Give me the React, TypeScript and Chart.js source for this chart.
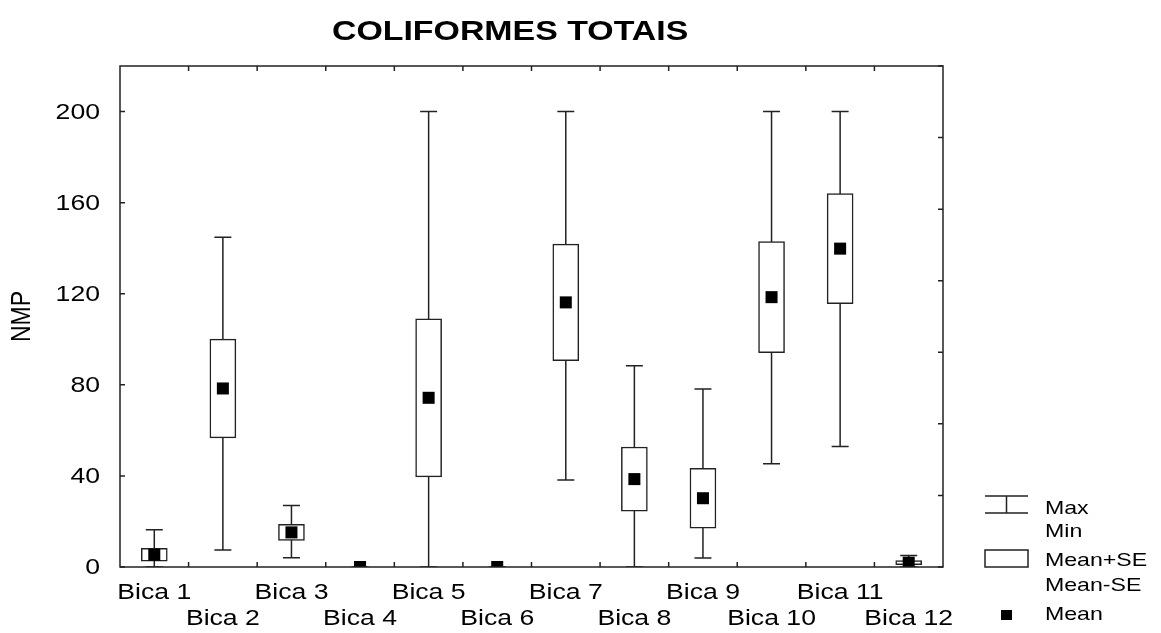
import React, { useEffect, useRef } from 'react';
import { Chart, registerables } from 'chart.js';

Chart.register(...registerables);

const categories = ['Bica 1', 'Bica 2', 'Bica 3', 'Bica 4', 'Bica 5', 'Bica 6', 'Bica 7', 'Bica 8', 'Bica 9', 'Bica 10', 'Bica 11', 'Bica 12'];
const meanValues = [5.4, 78.4, 15.2, 0, 74.3, 0, 116.2, 38.6, 30.2, 118.5, 139.8, 1.9];
const seValues = [2.8, 21.7, 3.5, 0, 34.7, 0, 25.6, 14.1, 13.1, 24.4, 24.2, 0.9];
const maxValues = [16.4, 144.8, 27, 0, 200, 0, 200, 88.4, 78.2, 200, 200, 5];
const minValues = [0, 7.5, 4.1, 0, 0, 0, 38.2, 0, 4, 45.3, 52.9, 0];
const yMin = 0;
const yMax = 220;
const yStep = 40;
const titleText = 'COLIFORMES TOTAIS';
const yAxisTitle = 'NMP';
const legendWhiskerLabels = ['Max', 'Min'];
const legendBoxLabels = ['Mean+SE', 'Mean-SE'];
const legendMeanLabel = 'Mean';

const FONT = '"Liberation Sans", Arial, Helvetica, sans-serif';
const LINE = '#222';
const STRETCH = 1.21; // the reference text is horizontally widened

function stretchedText(
  ctx: CanvasRenderingContext2D,
  text: string,
  x: number,
  y: number,
  align: CanvasTextAlign,
  baseline: CanvasTextBaseline,
  sx: number,
  rotate = 0,
) {
  ctx.save();
  ctx.translate(x, y);
  ctx.scale(sx, 1);
  if (rotate) ctx.rotate(rotate);
  ctx.textAlign = align;
  ctx.textBaseline = baseline;
  ctx.fillText(text, 0, 0);
  ctx.restore();
}

const boxPlotPlugin = {
  id: 'boxPlotExtras',
  beforeDatasetsDraw(chart: any) {
    const { ctx, chartArea } = chart;
    const xs = chart.scales.x;
    const ys = chart.scales.y;
    ctx.save();
    ctx.beginPath();
    ctx.rect(chartArea.left, chartArea.top, chartArea.right - chartArea.left, chartArea.bottom - chartArea.top);
    ctx.clip();
    ctx.strokeStyle = LINE;
    ctx.lineWidth = 1.5;
    const capHalf = 8.5;
    categories.forEach((_, i) => {
      const x = xs.getPixelForValue(i);
      const yTop = ys.getPixelForValue(maxValues[i]);
      const yBot = ys.getPixelForValue(minValues[i]);
      ctx.beginPath();
      ctx.moveTo(x, yBot);
      ctx.lineTo(x, yTop);
      ctx.moveTo(x - capHalf, yTop);
      ctx.lineTo(x + capHalf, yTop);
      ctx.moveTo(x - capHalf, yBot);
      ctx.lineTo(x + capHalf, yBot);
      ctx.stroke();
    });
    ctx.restore();
  },
  afterDraw(chart: any) {
    const { ctx, chartArea } = chart;
    const xs = chart.scales.x;
    const ys = chart.scales.y;
    const y2 = chart.scales.y2;
    const { left, right, top, bottom } = chartArea;
    const tl = 5;
    ctx.save();
    ctx.strokeStyle = LINE;
    ctx.lineWidth = 1.5;
    ctx.strokeRect(left, top, right - left, bottom - top);
    ctx.beginPath();
    for (let i = 1; i < categories.length; i++) {
      const px = (xs.getPixelForValue(i - 1) + xs.getPixelForValue(i)) / 2;
      ctx.moveTo(px, bottom);
      ctx.lineTo(px, bottom - tl);
      ctx.moveTo(px, top);
      ctx.lineTo(px, top + tl);
    }
    ys.ticks.forEach((t: any) => {
      const py = ys.getPixelForValue(t.value);
      ctx.moveTo(left, py);
      ctx.lineTo(left + tl, py);
    });
    y2.ticks.forEach((t: any) => {
      const py = y2.getPixelForValue(t.value);
      ctx.moveTo(right, py);
      ctx.lineTo(right - tl, py);
    });
    ctx.stroke();

    ctx.fillStyle = '#000';

    // y tick labels
    ctx.font = `22px ${FONT}`;
    ys.ticks.forEach((t: any) => {
      stretchedText(ctx, String(t.value), left - 20, ys.getPixelForValue(t.value) + 1, 'right', 'middle', STRETCH);
    });
    // x tick labels, alternating rows
    categories.forEach((c, i) => {
      const px = xs.getPixelForValue(i);
      stretchedText(ctx, c, px, bottom + (i % 2 === 0 ? 32 : 58), 'center', 'alphabetic', STRETCH);
    });
    // y axis title
    ctx.font = `23px ${FONT}`;
    stretchedText(ctx, yAxisTitle, left - 98, (top + bottom) / 2, 'center', 'middle', STRETCH, -Math.PI / 2);

    // title
    ctx.font = `bold 28px ${FONT}`;
    stretchedText(ctx, titleText, left + (right - left) * 0.474, 40, 'center', 'alphabetic', STRETCH);

    // legend
    const lx0 = right + 42;
    const lx1 = right + 85;
    const lxc = (lx0 + lx1) / 2;
    const tx = right + 102;
    ctx.lineWidth = 1.5;
    ctx.strokeStyle = LINE;
    ctx.beginPath();
    ctx.moveTo(lx0, bottom - 71);
    ctx.lineTo(lx1, bottom - 71);
    ctx.moveTo(lx0, bottom - 54);
    ctx.lineTo(lx1, bottom - 54);
    ctx.moveTo(lxc, bottom - 71);
    ctx.lineTo(lxc, bottom - 54);
    ctx.stroke();
    ctx.strokeRect(lx0, bottom - 17, lx1 - lx0, 17);
    ctx.fillRect(lxc - 5.5, bottom + 43, 11, 10);

    ctx.font = `18.5px ${FONT}`;
    const ls = 1.25;
    stretchedText(ctx, legendWhiskerLabels[0], tx, bottom - 53, 'left', 'alphabetic', ls);
    stretchedText(ctx, legendWhiskerLabels[1], tx, bottom - 30, 'left', 'alphabetic', ls);
    stretchedText(ctx, legendBoxLabels[0], tx, bottom - 1, 'left', 'alphabetic', ls);
    stretchedText(ctx, legendBoxLabels[1], tx, bottom + 24, 'left', 'alphabetic', ls);
    stretchedText(ctx, legendMeanLabel, tx, bottom + 53, 'left', 'alphabetic', ls);
    ctx.restore();
  },
};

export default function App() {
  const canvasRef = useRef<HTMLCanvasElement | null>(null);

  useEffect(() => {
    document.body.style.margin = '0';
    const canvas = canvasRef.current;
    if (!canvas) return;
    const chart = new Chart(canvas, {
      type: 'bar',
      data: {
        labels: categories,
        datasets: [
          {
            type: 'line',
            label: 'Mean',
            data: meanValues,
            showLine: false,
            pointStyle: 'rect',
            pointRadius: 8.5,
            pointHoverRadius: 8.5,
            pointBackgroundColor: '#000',
            pointBorderWidth: 0,
            borderWidth: 0,
            clip: 0,
            order: 0,
          } as any,
          {
            type: 'bar',
            label: 'Mean±SE',
            data: meanValues.map((m, i) => [m - seValues[i], m + seValues[i]]),
            backgroundColor: '#fff',
            borderColor: LINE,
            borderWidth: 1.5,
            borderSkipped: false,
            barThickness: 26,
            grouped: false,
            order: 1,
          } as any,
        ],
      },
      options: {
        animation: false,
        responsive: false,
        maintainAspectRatio: false,
        events: [],
        layout: { padding: { top: 66, right: 218, bottom: 0, left: 0 } },
        plugins: {
          legend: { display: false },
          tooltip: { enabled: false },
          title: { display: false },
        },
        scales: {
          x: {
            type: 'category',
            offset: true,
            grid: { display: false, drawTicks: false },
            border: { display: false },
            ticks: { display: false, autoSkip: false },
            afterFit: (s: any) => {
              s.height = 66;
            },
          },
          y: {
            position: 'left',
            min: yMin,
            max: yMax,
            grid: { display: false, drawTicks: false },
            border: { display: false },
            ticks: { display: false, stepSize: yStep, includeBounds: false },
            afterFit: (s: any) => {
              s.width = 120;
            },
          },
          y2: {
            position: 'right',
            min: 0,
            max: 7,
            grid: { display: false, drawTicks: false },
            border: { display: false },
            ticks: { stepSize: 1, display: false, includeBounds: false },
            afterFit: (s: any) => {
              s.width = 0;
            },
          },
        },
      } as any,
      plugins: [boxPlotPlugin],
    });
    return () => chart.destroy();
  }, []);

  return (
    <div style={{ position: 'fixed', left: 0, top: 0, width: 1161, height: 633, background: '#fff' }}>
      <canvas ref={canvasRef} width={1161} height={633} style={{ width: 1161, height: 633, display: 'block' }} />
    </div>
  );
}
